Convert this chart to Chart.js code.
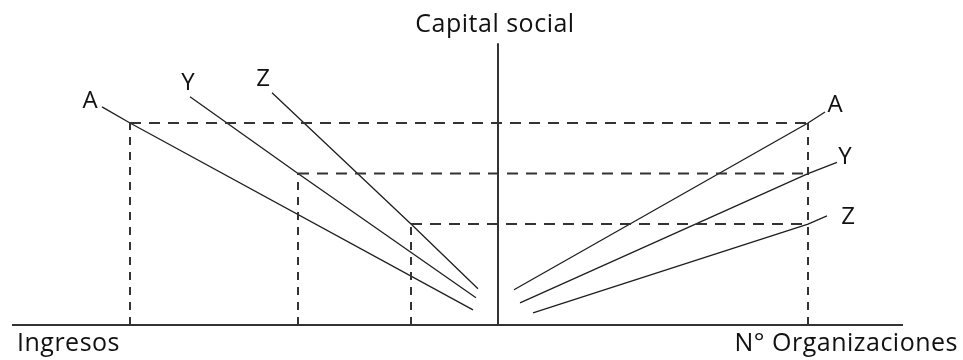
<!DOCTYPE html>
<html>
<head>
<meta charset="utf-8">
<script src="https://cdn.jsdelivr.net/npm/chart.js@4.4.0/dist/chart.umd.min.js"></script>
<style>
  body { margin: 0; background: #fff; }
  #wrap { width: 963px; height: 360px; }
</style>
</head>
<body>
<div id="wrap"><canvas id="chart"></canvas></div>
<script>
// x < 0 : Ingresos (to the left), x > 0 : N° Organizaciones, y : Capital social
const names = ['A', 'Y', 'Z'];
const levels = [200, 150, 100];
const ingresosAt = [-368, -200, -87];
const orgAt = 310;

// left curves (x, y)
const aLeftX = [-396, -368, -25];
const aLeftY = [216, 200, 15];
const yLeftX = [-308, -200, -22];
const yLeftY = [226, 150, 27];
const zLeftX = [-226, -87, -20];
const zLeftY = [230, 100, 36];

// right curves
const aRightX = [16, 310, 327];
const aRightY = [35, 200, 211];
const yRightX = [22, 310, 339];
const yRightY = [22, 150, 161];
const zRightX = [35, 310, 329];
const zRightY = [12, 100, 108];

// letter labels
const labelLeftX = [-408, -310, -235];
const labelLeftY = [222, 239, 243];
const labelRightX = [337, 347, 350];
const labelRightY = [218, 166, 107];

const axisXFrom = -486, axisXTo = 405, axisYTop = 279;

function pts(xs, ys) {
  return xs.map((x, i) => ({ x: x, y: ys[i] }));
}

function line(data, extra) {
  return Object.assign({
    data: data,
    showLine: true,
    pointRadius: 0,
    borderColor: '#1e1e1e',
    borderWidth: 1.3,
    tension: 0
  }, extra || {});
}

const datasets = [];

// axes
datasets.push(line([{ x: axisXFrom, y: 0 }, { x: axisXTo, y: 0 }], { borderWidth: 2, borderColor: '#333' }));
datasets.push(line([{ x: 0, y: 0 }, { x: 0, y: axisYTop }], { borderWidth: 2, borderColor: '#333' }));

// dashed guides
for (let i = 0; i < levels.length; i++) {
  datasets.push(line([{ x: ingresosAt[i], y: levels[i] }, { x: orgAt, y: levels[i] }],
    { borderDash: [11, 8], borderWidth: 2, borderColor: '#333' }));
  datasets.push(line([{ x: ingresosAt[i], y: 0 }, { x: ingresosAt[i], y: levels[i] }],
    { borderDash: [8, 7], borderWidth: 2, borderColor: '#333' }));
}
datasets.push(line([{ x: orgAt, y: 0 }, { x: orgAt, y: levels[0] }],
  { borderDash: [8, 7], borderWidth: 2, borderColor: '#333' }));

// curves
datasets.push(line(pts(aLeftX, aLeftY)));
datasets.push(line(pts(yLeftX, yLeftY)));
datasets.push(line(pts(zLeftX, zLeftY)));
datasets.push(line(pts(aRightX, aRightY)));
datasets.push(line(pts(yRightX, yRightY)));
datasets.push(line(pts(zRightX, zRightY)));

const textPlugin = {
  id: 'texts',
  afterDatasetsDraw(chart) {
    const ctx = chart.ctx;
    const sx = chart.scales.x, sy = chart.scales.y;
    ctx.save();
    ctx.fillStyle = '#111';
    ctx.font = '24px "Open Sans"';
    ctx.textBaseline = 'middle';
    ctx.textAlign = 'center';
    for (let i = 0; i < names.length; i++) {
      ctx.fillText(names[i], sx.getPixelForValue(labelLeftX[i]), sy.getPixelForValue(labelLeftY[i]));
      ctx.fillText(names[i], sx.getPixelForValue(labelRightX[i]), sy.getPixelForValue(labelRightY[i]));
    }
    ctx.font = '25px "Open Sans"';
    ctx.letterSpacing = '0.5px';
    ctx.textBaseline = 'alphabetic';
    ctx.fillText('Capital social', sx.getPixelForValue(-3), sy.getPixelForValue(290));
    ctx.textAlign = 'left';
    ctx.fillText('Ingresos', sx.getPixelForValue(-481), sy.getPixelForValue(-25.5));
    ctx.textAlign = 'right';
    ctx.fillText('N° Organizaciones', sx.getPixelForValue(460), sy.getPixelForValue(-25.5));
    ctx.restore();
  }
};

new Chart(document.getElementById('chart'), {
  type: 'scatter',
  data: { datasets: datasets },
  options: {
    responsive: true,
    maintainAspectRatio: false,
    animation: false,
    layout: { padding: 0 },
    plugins: { legend: { display: false }, tooltip: { enabled: false } },
    scales: {
      x: { type: 'linear', display: false, min: -498, max: 465 },
      y: { type: 'linear', display: false, min: -34.6, max: 321.8 }
    }
  },
  plugins: [textPlugin]
});
</script>
</body>
</html>
